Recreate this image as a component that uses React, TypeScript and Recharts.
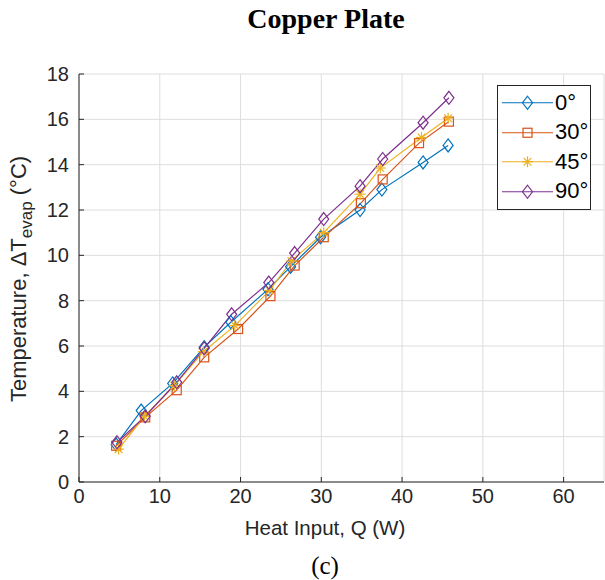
import { LineChart, Line, XAxis, YAxis, CartesianGrid, Legend } from "recharts";

const X_TICKS = [0, 10, 20, 30, 40, 50, 60];
const Y_TICKS = [0, 2, 4, 6, 8, 10, 12, 14, 16, 18];

const SERIES_NAMES = ["0°", "30°", "45°", "90°"];
const SERIES_COLORS = ["#0072BD", "#D95319", "#EDB120", "#7E2F8E"];
const SERIES_MARKERS = ["diamond", "square", "star", "diamond"];

const q0 = [4.6, 7.7, 11.6, 15.5, 18.8, 23.4, 26.2, 29.9, 34.8, 37.5, 42.6, 45.7];
const t0 = [1.65, 3.15, 4.35, 5.95, 7.05, 8.5, 9.5, 10.8, 12.0, 12.9, 14.1, 14.85];
const q30 = [4.6, 8.2, 12.1, 15.5, 19.7, 23.7, 26.7, 30.3, 34.9, 37.6, 42.1, 45.8];
const t30 = [1.6, 2.85, 4.05, 5.5, 6.75, 8.2, 9.55, 10.8, 12.3, 13.35, 14.95, 15.9];
const q45 = [4.9, 8.1, 11.8, 15.4, 19.3, 23.6, 26.3, 30.3, 34.8, 37.3, 42.4, 45.7];
const t45 = [1.45, 2.9, 4.25, 5.75, 6.9, 8.45, 9.75, 11.0, 12.7, 13.85, 15.2, 16.05];
const q90 = [4.7, 8.2, 12.1, 15.5, 18.9, 23.5, 26.7, 30.3, 34.8, 37.6, 42.6, 45.8];
const t90 = [1.75, 2.9, 4.4, 5.9, 7.4, 8.8, 10.1, 11.6, 13.05, 14.25, 15.85, 16.95];

const toPoints = (xs: number[], ys: number[]) => xs.map((x, i) => ({ x, y: ys[i] }));
const seriesData = [toPoints(q0, t0), toPoints(q30, t30), toPoints(q45, t45), toPoints(q90, t90)];

const AXIS = "#262626";
const FONT = "'Liberation Sans', Arial, sans-serif";

function Marker({ cx, cy, kind, color }: { cx: number; cy: number; kind: string; color: string }) {
  if (kind === "square") {
    return <rect x={cx - 4.5} y={cy - 4.5} width={9} height={9} fill="none" stroke={color} strokeWidth={1.2} />;
  }
  if (kind === "star") {
    const r = 5.5;
    return (
      <g stroke={color} strokeWidth={1.2}>
        <line x1={cx - r} y1={cy} x2={cx + r} y2={cy} />
        <line x1={cx} y1={cy - r} x2={cx} y2={cy + r} />
        <line x1={cx - r * 0.7} y1={cy - r * 0.7} x2={cx + r * 0.7} y2={cy + r * 0.7} />
        <line x1={cx - r * 0.7} y1={cy + r * 0.7} x2={cx + r * 0.7} y2={cy - r * 0.7} />
      </g>
    );
  }
  return (
    <polygon
      points={`${cx},${cy - 6.5} ${cx + 5},${cy} ${cx},${cy + 6.5} ${cx - 5},${cy}`}
      fill="none"
      stroke={color}
      strokeWidth={1.2}
    />
  );
}

function LegendBox() {
  return (
    <div
      style={{
        position: "absolute",
        left: 497,
        top: 85,
        width: 92,
        height: 121,
        border: `1px solid ${AXIS}`,
        background: "#fff",
        paddingTop: 2,
        boxSizing: "content-box",
      }}
    >
      {SERIES_NAMES.map((name, i) => (
        <div key={name} style={{ height: 29.5, display: "flex", alignItems: "center" }}>
          <svg width={56} height={29.5} style={{ display: "block" }}>
            <line x1={4} y1={14.75} x2={55} y2={14.75} stroke={SERIES_COLORS[i]} strokeWidth={1.2} />
            <Marker cx={29.5} cy={14.75} kind={SERIES_MARKERS[i]} color={SERIES_COLORS[i]} />
          </svg>
          <span style={{ fontFamily: FONT, fontSize: 22, color: "#000", marginLeft: 1, lineHeight: 1 }}>{name}</span>
        </div>
      ))}
    </div>
  );
}

const noTick = () => <g />;

export default function App() {
  return (
    <div style={{ position: "absolute", left: 0, top: 0, width: 605, height: 580, background: "#fff" }}>
      <div
        style={{
          position: "absolute",
          left: 0,
          width: 652,
          top: 3,
          textAlign: "center",
          fontFamily: "'Liberation Serif', serif",
          fontWeight: "bold",
          fontSize: 28,
          color: "#000",
        }}
      >
        Copper Plate
      </div>
      <LineChart
        width={605}
        height={580}
        margin={{ top: 74, right: 1, bottom: 0, left: 0 }}
        style={{ position: "absolute", left: 0, top: 0 }}
      >
        <CartesianGrid stroke="#dedede" strokeWidth={1} />
        <XAxis
          type="number"
          dataKey="x"
          domain={[0, 65]}
          ticks={X_TICKS}
          allowDataOverflow
          height={98}
          stroke={AXIS}
          tickSize={-5}
          tickMargin={12}
          tick={{ fill: AXIS, fontSize: 20, fontFamily: FONT }}
          label={{
            content: () => (
              <g>
                <text x={325} y={535} textAnchor="middle" fontFamily={FONT} fontSize={20.5} fill={AXIS}>
                  Heat Input, Q (W)
                </text>
                <text x={325} y={574} textAnchor="middle" fontFamily="'Liberation Serif', serif" fontSize={25} fill="#000">
                  (c)
                </text>
              </g>
            ),
          }}
        />
        <XAxis
          xAxisId="top"
          type="number"
          dataKey="x"
          orientation="top"
          domain={[0, 65]}
          ticks={X_TICKS}
          height={0}
          stroke={AXIS}
          tickSize={-5}
          tick={noTick}
        />
        <YAxis
          type="number"
          domain={[0, 18]}
          ticks={Y_TICKS}
          width={79}
          stroke={AXIS}
          tickSize={-5}
          tickMargin={15}
          tick={{ fill: AXIS, fontSize: 20, fontFamily: FONT }}
          label={{
            content: () => (
              <text
                transform="translate(26, 279) rotate(-90)"
                textAnchor="middle"
                fontFamily={FONT}
                fontSize={22}
                fill={AXIS}
              >
                Temperature, ΔT
                <tspan fontSize={17} dy={6}>evap</tspan>
                <tspan dy={-6}> (°C)</tspan>
              </text>
            ),
          }}
        />
        <YAxis
          yAxisId="right"
          type="number"
          orientation="right"
          domain={[0, 18]}
          ticks={Y_TICKS}
          width={0}
          stroke={AXIS}
          tickSize={-5}
          tick={noTick}
        />
        {seriesData.map((d, i) => (
          <Line
            key={SERIES_NAMES[i]}
            data={d}
            dataKey="y"
            name={SERIES_NAMES[i]}
            type="linear"
            stroke={SERIES_COLORS[i]}
            strokeWidth={1.2}
            isAnimationActive={false}
            dot={(p: any) => (
              <Marker key={`${i}-${p.index}`} cx={p.cx} cy={p.cy} kind={SERIES_MARKERS[i]} color={SERIES_COLORS[i]} />
            )}
            activeDot={false}
          />
        ))}
        <Legend content={() => null} />
      </LineChart>
      <LegendBox />
    </div>
  );
}
